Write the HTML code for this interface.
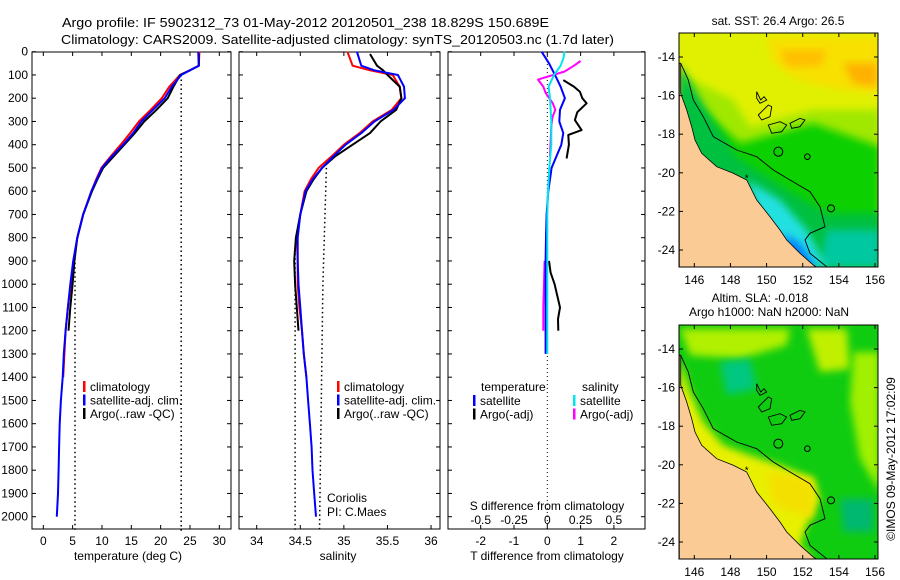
<!DOCTYPE html>
<html><head><meta charset="utf-8">
<style>
html,body{margin:0;padding:0;background:#fff;}
svg{display:block;font-family:"Liberation Sans",sans-serif;}
</style></head>
<body>
<svg id="fig" width="900" height="580" viewBox="0 0 900 580" xmlns="http://www.w3.org/2000/svg">
<text x="62" y="27" font-size="13" textLength="487" lengthAdjust="spacingAndGlyphs">Argo profile: IF 5902312_73 01-May-2012 20120501_238 18.829S 150.689E</text>
<text x="61" y="44" font-size="13" textLength="553" lengthAdjust="spacingAndGlyphs">Climatology: CARS2009. Satellite-adjusted climatology: synTS_20120503.nc (1.7d later)</text>
</svg>
<script>
// ---------- data ----------
const depthTicks=[0,100,200,300,400,500,600,700,800,900,1000,1100,1200,1300,1400,1500,1600,1700,1800,1900,2000];
const tempTicks=[0,5,10,15,20,25,30];
const salTicks=[34,34.5,35,35.5,36];
const salTickLabels=["34","34.5","35","35.5","36"];
const tdTicks=[-2,-1,0,1,2];
const sdTicks=[-0.5,-0.25,0,0.25,0.5];
const sdTickLabels=["-0.5","-0.25","0","0.25","0.5"];

const climDepth=[0,60,80,100,150,200,250,300,350,400,450,500,550,600,700,800,900,1000,1100,1200,1300,1400];
const climTemp=[26.6,26.5,25,23.3,21.5,20.2,18.3,16.3,14.8,13.2,11.5,9.9,9,8.2,6.8,5.8,5.2,4.7,4.2,3.8,3.6,3.4];
const satDepth=[0,60,80,100,150,200,250,300,350,400,450,500,550,600,700,800,900,1000,1100,1200,1300,1400,1500,1600,1700,1800,1900,2000];
const satTemp=[26.4,26.5,25,23.5,21.9,20.7,18.7,16.7,15.3,13.6,11.7,10,9.1,8.2,6.8,5.8,5.1,4.6,4.2,3.8,3.5,3.3,3.0,2.8,2.7,2.6,2.5,2.3];
const argoDepth=[10,60,80,100,150,200,250,300,350,400,450,500,550,600,700,800,900,1000,1100,1200];
const argoTemp=[26.5,26.5,25,23.3,22.2,21.2,19.3,17.2,15.6,13.8,12,10.2,9.2,8.3,6.8,5.8,5.3,5.0,4.6,4.3];
const tempLimDepth=[100,2060];
const tempLimA=[23.5,23.5];
const tempLimBDepth=[850,2060];
const tempLimB=[5.4,5.4];

const climSal=[35.04,35.1,35.3,35.56,35.64,35.66,35.55,35.33,35.18,35.0,34.86,34.71,34.62,34.55,34.5,34.46,34.47,34.47,34.49,34.52,34.54,34.57];
const satSal=[35.15,35.2,35.35,35.62,35.69,35.7,35.57,35.35,35.2,35.02,34.88,34.75,34.64,34.56,34.5,34.47,34.47,34.48,34.5,34.52,34.54,34.57,34.59,34.61,34.63,34.64,34.66,34.68];
const argoSal=[35.3,35.38,35.45,35.5,35.64,35.66,35.6,35.42,35.3,35.1,34.9,34.75,34.65,34.57,34.5,34.45,34.43,34.44,34.46,34.48];
const salLimADepth=[500,1000,2060];
const salLimA=[34.8,34.76,34.72];
const salLimBDepth=[850,2060];
const salLimB=[34.44,34.44];

const tdSatDepth=[0,50,100,150,200,250,300,350,400,500,600,700,800,900,1000,1300];
const tdSat=[-0.17,0.05,0.23,0.4,0.53,0.38,0.36,0.48,0.42,0.13,0.03,-0.02,-0.04,-0.05,-0.05,-0.05];
const tdArgoDepth=[122,150,172,200,222,260,294,337,358,400,459];
const tdArgo=[0.48,0.8,0.98,1.05,1.18,0.9,0.83,1.03,0.63,0.65,0.58];
const tdArgo2Depth=[900,950,1000,1050,1100,1150,1200];
const tdArgo2=[0.05,0.1,0.22,0.3,0.38,0.32,0.33];
const sdSatDepth=[0,30,60,100,150,200,300,400,500,600,700,900,1100,1300];
const sdSat=[0.13,0.12,0.1,0.05,0.01,0.02,0.03,0.03,0.015,0.005,0,0,0,0];
const sdArgoDepth=[40,60,85,120,150,180,220,250,280,320,450];
const sdArgo=[0.25,0.2,0.13,-0.07,-0.03,-0.01,0.04,0.06,0.04,0.03,0.02];
const sdArgo2Depth=[900,1000,1100,1200];
const sdArgo2=[-0.02,-0.025,-0.03,-0.03];

const legendLabels1=["climatology","satellite-adj. clim.","Argo(..raw -QC)"];
const legendColors1=["#ff0000","#0000ff","#000000"];
const mapLonTicks=[146,148,150,152,154,156];
const mapLatTicks=[-14,-16,-18,-20,-22,-24];

// ---------- helpers ----------
const svg=document.getElementById('fig');
const NS="http://www.w3.org/2000/svg";
function mk(tag,attrs,parent){const e=document.createElementNS(NS,tag);for(const k in attrs)e.setAttribute(k,attrs[k]);(parent||svg).appendChild(e);return e;}
function txt(s,x,y,anchor,size,parent){const t=mk('text',{x:x,y:y,'text-anchor':anchor||'start','font-size':size||12},parent);t.textContent=s;return t;}
const Y0=52,YB=529;
function yD(d){return 51.7+d*0.2325;}
function xT(t){return 43.3+t*5.867;}
function xS(s){return 256.7+(s-34)*87.17;}
function xTD(t){return 547.3+t*33.3;}
function xSD(s){return 547.3+s*133.2;}

function panel(x0,x1,name){
  const g=mk('g',{});
  
  
  mk('rect',{x:x0,y:Y0,width:x1-x0,height:YB-Y0,fill:'#fff',stroke:'#000','stroke-width':1},g);
  depthTicks.forEach(d=>{const y=yD(d);
    mk('line',{x1:x0,x2:x0+4,y1:y,y2:y,stroke:'#000'},g);
    mk('line',{x1:x1-4,x2:x1,y1:y,y2:y,stroke:'#000'},g);});
  return g;
}
function xticks(g,vals,fx,labels){
  vals.forEach((v,i)=>{const x=fx(v);
    mk('line',{x1:x,x2:x,y1:YB,y2:YB-4,stroke:'#000'},g);
    mk('line',{x1:x,x2:x,y1:Y0,y2:Y0+4,stroke:'#000'},g);
    const t=txt(labels?labels[i]:String(v),x,545,'middle',12,g);
    
    
  });
}
function line(g,ds,vs,fx,color,name,dash,w){
  const pts=ds.map((d,i)=>fx(vs[i]).toFixed(1)+','+yD(d).toFixed(1)).join(' ');
  const p=mk('polyline',{points:pts,fill:'none',stroke:color,'stroke-width':w||2,'stroke-linejoin':'round'},g);
  if(dash)p.setAttribute('stroke-dasharray',dash);
  
  
  return p;
}
function legend(g,x,y,labels,colors){
  labels.forEach((l,i)=>{const yy=y+i*13.5;
    const b=mk('rect',{x:x,y:yy-9,width:2.5,height:11,fill:colors[i]},g);
    
    
    const t=txt(l,x+7,yy+1,'start',12,g);
    
    
  });
}

depthTicks.forEach(d=>{const t=txt(String(d),28,yD(d)+4,'end',12);
  
  });

// ---------- panel 1 temperature ----------
const g1=panel(32,231,'temperature-panel');
xticks(g1,tempTicks,xT);
line(g1,tempLimDepth,tempLimA,xT,'#000','temp-limit-upper','1.5,3',1.5);
line(g1,tempLimBDepth,tempLimB,xT,'#000','temp-limit-lower','1.5,3',1.5);
line(g1,climDepth,climTemp,xT,'#ff0000','climatology-temp-line');
line(g1,argoDepth,argoTemp,xT,'#000','argo-temp-line');
line(g1,satDepth,satTemp,xT,'#0000ff','satellite-temp-line');
legend(g1,83,390,legendLabels1,legendColors1);
let t=txt('temperature (deg C)',128,560,'middle',12,g1);


// ---------- panel 2 salinity ----------
const g2=panel(239,440,'salinity-panel');
xticks(g2,salTicks,xS,salTickLabels);
line(g2,salLimADepth,salLimA,xS,'#000','salinity-limit-upper','1.5,3',1.5);
line(g2,salLimBDepth,salLimB,xS,'#000','salinity-limit-lower','1.5,3',1.5);
line(g2,climDepth,climSal,xS,'#ff0000','climatology-salinity-line');
line(g2,argoDepth,argoSal,xS,'#000','argo-salinity-line');
line(g2,satDepth,satSal,xS,'#0000ff','satellite-salinity-line');
legend(g2,337,390,legendLabels1,legendColors1);
t=txt('Coriolis',327,502,'start',12,g2);
t=txt('PI: C.Maes',327,516,'start',12,g2);
t=txt('salinity',338,560,'middle',12,g2);

// ---------- panel 3 difference ----------
const g3=panel(448,645,'difference-panel');
xticks(g3,tdTicks,xTD);
mk('line',{x1:xTD(0),x2:xTD(0),y1:Y0,y2:YB,stroke:'#000','stroke-dasharray':'1,3'},g3);
line(g3,sdArgoDepth,sdArgo,xSD,'#ff00ff','argo-salinity-diff-line');
line(g3,sdArgo2Depth,sdArgo2,xSD,'#ff00ff','argo-salinity-diff-deep-line');
line(g3,tdArgoDepth,tdArgo,xTD,'#000','argo-temp-diff-line');
line(g3,tdArgo2Depth,tdArgo2,xTD,'#000','argo-temp-diff-deep-line');
line(g3,tdSatDepth,tdSat,xTD,'#0000ff','satellite-temp-diff-line');
line(g3,sdSatDepth,sdSat,xSD,'#00e5ee','satellite-salinity-diff-line');
t=txt('temperature',481,391,'start',12,g3);
t=txt('salinity',582,391,'start',12,g3);
legend(g3,473,404,["satellite","Argo(-adj)"],["#0000ff","#000000"]);
legend(g3,573,404,["satellite","Argo(-adj)"],["#00e5ee","#ff00ff"]);
t=txt('S difference from climatology',547,510,'middle',12,g3);
sdTicks.forEach((v,i)=>{const tt=txt(sdTickLabels[i],xSD(v),524,'middle',12,g3);
  });
t=txt('T difference from climatology',547,560,'middle',12,g3);

// ---------- maps ----------
function Z(pts,dy){return pts.map(p=>(p[0]/3+640).toFixed(1)+','+(p[1]/3+dy).toFixed(1)).join(' ');}
const land=[[118,190],[122,190],[122,280],[140,330],[155,380],[165,420],[185,460],[230,500],[280,520],[320,540],[350,600],[390,650],[420,690],[440,720],[480,760],[520,795],[530,802],[118,802]];
const shelf=[[122,190],[145,240],[160,300],[190,350],[220,410],[290,450],[350,470],[400,510],[450,540],[510,575],[540,620],[555,680],[510,700],[495,720],[510,760],[560,800]];
const reef=[[[350,275],[362,300],[372,290],[380,300],[360,310],[350,295]],[[355,345],[385,315],[395,320],[390,350],[365,360]],[[385,375],[420,365],[440,375],[425,395],[395,400]],[[450,370],[480,355],[495,360],[480,380],[455,385]]];
function map(dy,name,layers){
  const g=mk('g',{});
  
  
  const cid='clip'+dy;
  const cp=mk('clipPath',{id:cid},g);
  mk('rect',{x:679,y:33+dy,width:199,height:234},cp);
  const inner=mk('g',{'clip-path':'url(#'+cid+')'},g);
  layers.forEach(l=>{const p=mk('polygon',{points:Z(l[1],dy),fill:l[0]},inner);
    if(l[2])p.setAttribute('filter','url(#blur)');});
  const lp=mk('polygon',{points:Z(land,dy),fill:'#fbcb96',stroke:'#000','stroke-width':0.8},inner);
  
  mk('polyline',{points:Z(shelf,dy),fill:'none',stroke:'#000','stroke-width':0.9},inner);
  reef.forEach(r=>mk('polygon',{points:Z(r,dy),fill:'none',stroke:'#000','stroke-width':0.9},inner));
  mk('circle',{cx:415/3+640,cy:455/3+dy,r:4.5,fill:'none',stroke:'#000'},inner);
  mk('circle',{cx:502/3+640,cy:470/3+dy,r:2.8,fill:'none',stroke:'#000'},inner);
  mk('circle',{cx:573/3+640,cy:625/3+dy,r:3.5,fill:'none',stroke:'#000'},inner);
  mk('text',{x:320/3+640,y:545/3+dy,'font-size':10,'text-anchor':'middle'},inner).textContent='*';
  mk('rect',{x:679,y:33+dy,width:199,height:234,fill:'none',stroke:'#000'},g);
  mapLonTicks.forEach(lon=>{const x=694.3+(lon-146)*18.07;
    mk('line',{x1:x,x2:x,y1:267+dy,y2:263+dy,stroke:'#000'},g);
    mk('line',{x1:x,x2:x,y1:33+dy,y2:37+dy,stroke:'#000'},g);
    const tt=txt(String(lon),x,284+dy,'middle',12,g);});
  mapLatTicks.forEach(lat=>{const y=57+dy+(-14-lat)*19.3;
    mk('line',{x1:679,x2:683,y1:y,y2:y,stroke:'#000'},g);
    mk('line',{x1:874,x2:878,y1:y,y2:y,stroke:'#000'},g);
    const tt=txt(String(lat),675,y+4,'end',12,g);});
  return g;
}
const defs=mk('defs',{});
const f=mk('filter',{id:'blur',x:'-20%',y:'-20%',width:'140%',height:'140%'},defs);
mk('feGaussianBlur',{stdDeviation:4},f);
const full=[[100,90],[720,90],[720,810],[100,810]];
map(0,'sst-map',[
 ['#e0f000',full],
 ['#f8e000',[[380,110],[720,110],[720,280],[600,270],[480,240],[400,190]],true],
 ['#ffc000',[[420,150],[560,150],[540,200],[440,200]],true],
 ['#ffb000',[[610,190],[710,190],[710,260],[640,250]],true],
 ['#a0e800',[[118,220],[280,300],[330,380],[520,330],[720,330],[720,802],[118,802]],true],
 ['#10d000',[[118,270],[300,430],[520,370],[720,440],[720,802],[118,802]],true],
 ['#00c040',[[118,190],[200,330],[290,470],[430,560],[560,640],[720,640],[720,802],[118,802]],true],
 ['#00c8a0',[[560,690],[720,690],[720,802],[540,802]],true],
 ['#20e0e0',[[320,540],[420,600],[500,690],[560,802],[420,802]],true],
 ['#0080ff',[[430,700],[480,730],[530,802],[460,802]],true]
]);
const t1=txt('sat. SST: 26.4 Argo: 26.5',778,25,'middle',12);
map(292,'sla-map',[
 ['#10cc10',full],
 ['#b0f000',[[120,110],[450,110],[440,160],[300,200],[150,190]],true],
 ['#c0f000',[[500,110],[620,110],[630,230],[540,240]],true],
 ['#a0f000',[[640,180],[720,180],[720,600],[660,500],[630,330]],true],
 ['#00c880',[[240,210],[330,200],[350,290],[260,310]],true],
 ['#00b870',[[600,620],[700,620],[700,720],[610,720]],true],
 ['#e8f000',[[118,200],[150,300],[190,390],[250,460],[330,490],[420,520],[520,560],[540,620],[500,700],[480,760],[520,802],[118,802]],true],
 ['#f4e000',[[380,540],[520,560],[520,680],[400,640]],true]
]);
const t2=txt('Altim. SLA: -0.018',760,302,'middle',12);
const t3=txt('Argo h1000: NaN h2000: NaN',769,316,'middle',12);
const t4=txt('\u00a9IMOS 09-May-2012 17:02:09',0,0,'middle',12);
t4.setAttribute('transform','translate(895,459) rotate(-90)');


</script>
</body></html>
